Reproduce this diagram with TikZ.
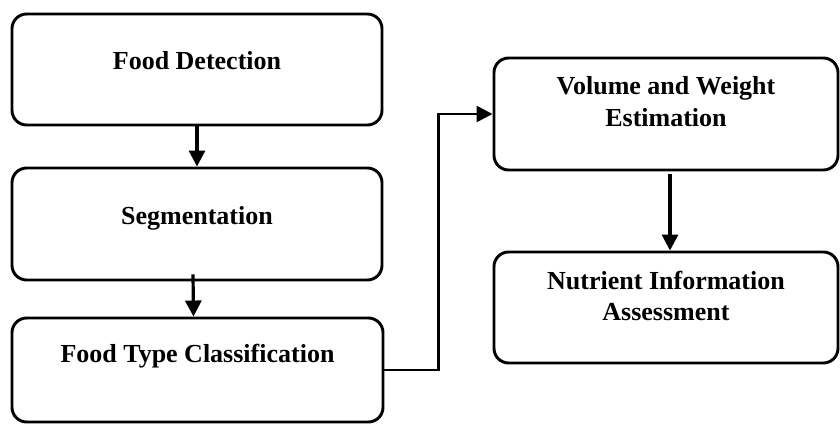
\documentclass[tikz,border=0pt]{standalone}
\usepackage{fontspec}
\setmainfont{Liberation Serif}
\usepackage{tikz}
\usetikzlibrary{arrows.meta,calc}

\tikzset{
  stagebox/.style={draw=black,line width=2.2pt,rounded corners=11pt,
    inner sep=0pt,fill=white},
  stagetext/.style={anchor=north,inner sep=0pt,align=center,
    font=\bfseries\fontsize{19.5}{23.5}\selectfont},
  flowarrow/.style={line width=2.4pt,-{Triangle[length=12pt,width=12pt]}}
}

\begin{document}
\begin{tikzpicture}[x=0.75pt,y=-0.75pt]
    \useasboundingbox (0,0) rectangle (840,425);

    \node[stagebox,minimum width=277.5pt,minimum height=83.25pt] (det) at (197,69.5) {};
    \node[stagebox,minimum width=277.5pt,minimum height=84pt] (seg) at (197,224) {};
    \node[stagebox,minimum width=278.25pt,minimum height=78pt] (cls) at (197.5,370) {};
    \node[stagebox,minimum width=258pt,minimum height=84pt] (vol) at (666,114) {};
    \node[stagebox,minimum width=258pt,minimum height=83.25pt] (nut) at (666,307.5) {};

    \node[stagetext] (detT) at ($(det.north)+(0,39)$) {Food Detection};
    \node[stagetext] (segT) at ($(seg.north)+(0,40)$) {Segmentation};
    \node[stagetext] (clsT) at ($(cls.north)+(0,27)$) {Food Type Classification};
    \node[stagetext] (volT) at ($(vol.north)+(0,20)$) {Volume and Weight\\Estimation};
    \node[stagetext] (nutT) at ($(nut.north)+(0,20)$) {Nutrient Information\\Assessment};

    \draw[flowarrow] (det.south) -- (seg.north);
    \draw[flowarrow] ($(seg.south)+(-4,-7)$) -- ($(cls.north)+(-4,0)$);
    \draw[flowarrow] ($(vol.south)+(4,3)$) -- ($(nut.north)+(4,0)$);
    \draw[flowarrow,line width=2pt] (cls.east) -- ++(54,0) |- (vol.west);
\end{tikzpicture}
\end{document}
